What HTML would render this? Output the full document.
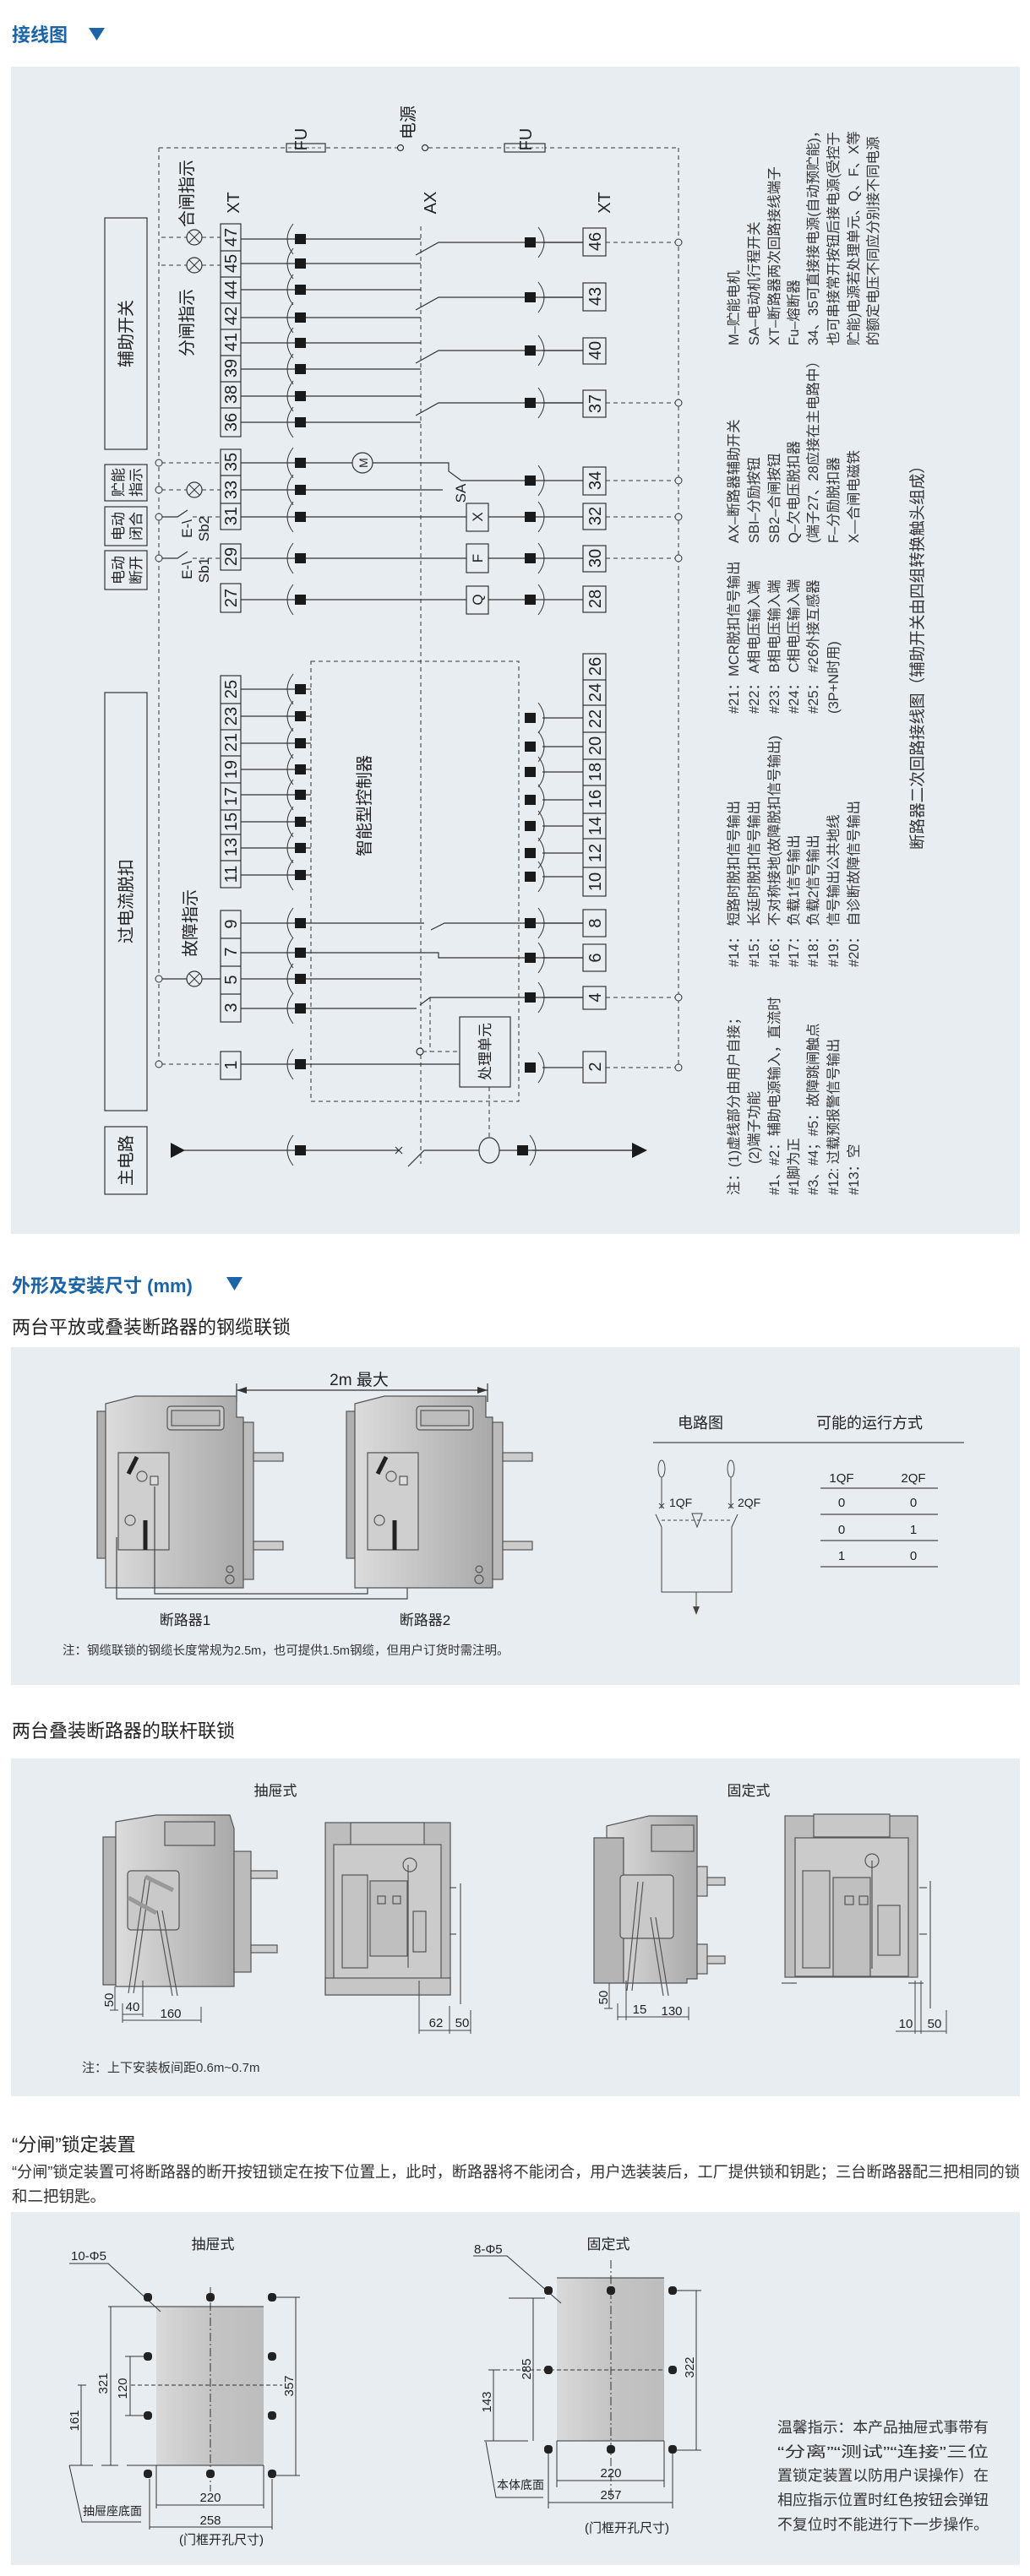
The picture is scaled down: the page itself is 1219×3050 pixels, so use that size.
<!DOCTYPE html>
<html><head><meta charset="utf-8"><style>
html,body{margin:0;padding:0;background:#fff;}
svg{display:block;}
text{font-family:"Liberation Sans","Noto Sans CJK SC",sans-serif;}
</style></head><body>
<svg width="1219" height="3050" viewBox="0 0 1219 3050" xmlns="http://www.w3.org/2000/svg">
<defs>
<linearGradient id="gb" x1="0" x2="1" y1="0" y2="0"><stop offset="0" stop-color="#dcdcdc"/><stop offset="1" stop-color="#a9a9a9"/></linearGradient>
<linearGradient id="gr" x1="0" x2="1" y1="0" y2="0"><stop offset="0" stop-color="#d9d9d9"/><stop offset="0.5" stop-color="#c4c4c4"/><stop offset="1" stop-color="#bdbdbd"/></linearGradient>
</defs>
<rect width="1219" height="3050" fill="#fff"/>

<!-- ===== HEADER 1 ===== -->
<text x="14" y="49" font-size="22" font-weight="bold" fill="#1b64a8">接线图</text>
<polygon points="105,33 124,33 114.5,48" fill="#1b64a8"/>

<rect x="13" y="79" width="1194" height="1382" fill="#e8edf1"/>

<g stroke="#333" fill="none" stroke-width="1.2">
<!-- top dashed supply -->
<g stroke-dasharray="5,4" stroke-width="1">
<line x1="188" y1="175" x2="470" y2="175"/>
<line x1="507" y1="175" x2="803" y2="175"/>
<line x1="188" y1="175" x2="188" y2="1260"/>
<line x1="803" y1="175" x2="803" y2="1264"/>
<line x1="498" y1="268" x2="498" y2="1378"/>
<rect x="368" y="783" width="246" height="521"/>
</g>
<rect x="339" y="170" width="46" height="10" fill="#e8edf1"/>
<line x1="341" y1="175" x2="383" y2="175" stroke-dasharray="4,3" stroke-width="0.8"/>
<rect x="597" y="170" width="48" height="10" fill="#e8edf1"/>
<line x1="599" y1="175" x2="643" y2="175" stroke-dasharray="4,3" stroke-width="0.8"/>
<circle cx="474" cy="175" r="3.5" fill="#e8edf1"/>
<circle cx="503" cy="175" r="3.5" fill="#e8edf1"/>

<!-- boxes on left -->
<rect x="124" y="258" width="50" height="274"/>
<rect x="124" y="550" width="50" height="43"/>
<rect x="124" y="600" width="50" height="46"/>
<rect x="124" y="652" width="50" height="46"/>
<rect x="124" y="820" width="50" height="495"/>
<rect x="124" y="1334" width="50" height="80"/>

<!-- left terminal strips -->
<rect x="261" y="265" width="24" height="252"/>
<path d="M261 297H285M261 328H285M261 359H285M261 390H285M261 421H285M261 452H285M261 483H285"/>
<rect x="261" y="532" width="24" height="95"/>
<path d="M261 563H285M261 596H285"/>
<rect x="261" y="644" width="24" height="31"/>
<rect x="261" y="691" width="24" height="34"/>
<rect x="261" y="800" width="24" height="251"/>
<path d="M261 833H285M261 864H285M261 895H285M261 927H285M261 959H285M261 988H285M261 1019H285"/>
<rect x="261" y="1078" width="24" height="132"/>
<path d="M261 1111H285M261 1144H285M261 1177H285"/>
<rect x="261" y="1245" width="24" height="33"/>

<!-- right terminal boxes -->
<rect x="690" y="270" width="27" height="33"/>
<rect x="690" y="335" width="27" height="33"/>
<rect x="690" y="400" width="27" height="31"/>
<rect x="690" y="462" width="27" height="32"/>
<rect x="690" y="553" width="27" height="33"/>
<rect x="690" y="596" width="27" height="31"/>
<rect x="690" y="646" width="27" height="31"/>
<rect x="690" y="694" width="27" height="31"/>
<rect x="690" y="774" width="27" height="287"/>
<path d="M690 805H717M690 835H717M690 867H717M690 899H717M690 930H717M690 963H717M690 993H717M690 1027H717"/>
<rect x="690" y="1077" width="27" height="32"/>
<rect x="690" y="1118" width="27" height="32"/>
<rect x="690" y="1168" width="27" height="27"/>
<rect x="690" y="1245" width="27" height="37"/>

<!-- top group left rows -->
<path d="M285 283H498M285 312H498M285 343H498M285 376H498M285 406H498M285 437H498M285 469H498M285 500H498"/>
<!-- switches to right -->
<path d="M492 302L519 287H690M492 367L519 352H690M492 430L519 415H690M492 492L519 477H690"/>
<g stroke-dasharray="5,4" stroke-width="1"><path d="M717 287H800M717 477H800M717 569H800M717 612H800M717 661H800M717 1181H800M717 1264H800"/></g>

<!-- lower aux rows -->
<path d="M285 548H417M441 548H531V558L546 569H690"/>
<circle cx="429" cy="548" r="12"/>
<path d="M285 580H524"/>
<path d="M285 612H552M578 612H690"/>
<rect x="552" y="596" width="26" height="33"/>
<path d="M285 661H552M578 661H690"/>
<rect x="552" y="644" width="26" height="34"/>
<path d="M285 710H552M578 710H690"/>
<rect x="552" y="694" width="26" height="33"/>

<!-- left connections aux -->
<g stroke-dasharray="5,4" stroke-width="1">
<path d="M191 281H221M239 281H261M191 314H221M239 314H261"/>
<path d="M191 548H261M191 580H221M239 580H261"/>
<path d="M228 612H261M228 661H261"/>
<path d="M191 1260H261"/>
</g>
<path d="M191 612H210L222 604M191 661H210L222 653"/>
<path d="M191 1159H221M239 1159H261"/>

<!-- controller rows -->
<path d="M285 816H368M285 848H368M285 880H368M285 911H368M285 941H368M285 973H368M285 1004H368M285 1036H368"/>
<path d="M642 850H690M642 884H690M642 914H690M642 947H690M642 978H690M642 1010H690M642 1038H690"/>
<path d="M285 1093H502M510 1101L526 1093H690"/>
<path d="M285 1128H519V1134H690"/>
<path d="M285 1159H498"/>
<path d="M285 1194H493M497 1190L509 1181H690"/>
<g stroke-dasharray="5,4" stroke-width="1"><path d="M509 1181V1245M500 1245H544M579 1287V1347"/></g>
<circle cx="497" cy="1245" r="4" fill="#e8edf1"/>
<path d="M285 1260H544"/>
<rect x="544" y="1204" width="60" height="83"/>
<path d="M642 1264H690"/>

<!-- main circuit -->
<path d="M218 1362H472M468 1358L476 1366M468 1366L476 1358M483 1381L502 1362H748"/>
<ellipse cx="579" cy="1362" rx="12" ry="15" fill="#e8edf1"/>

<!-- lamps -->
<g fill="#e8edf1">
<circle cx="230" cy="281" r="9"/><circle cx="230" cy="314" r="9"/><circle cx="230" cy="580" r="9"/><circle cx="230" cy="1159" r="9"/>
</g>
<path d="M223.6 274.6L236.4 287.4M236.4 274.6L223.6 287.4M223.6 307.6L236.4 320.4M236.4 307.6L223.6 320.4M223.6 573.6L236.4 586.4M236.4 573.6L223.6 586.4M223.6 1152.6L236.4 1165.4M236.4 1152.6L223.6 1165.4" stroke-width="1"/>

<!-- small circles on dashed verticals -->
<g fill="#e8edf1" stroke-width="1">
<circle cx="188" cy="548" r="4"/><circle cx="188" cy="580" r="4"/><circle cx="188" cy="612" r="4"/><circle cx="188" cy="661" r="4"/><circle cx="188" cy="1159" r="4"/><circle cx="188" cy="1260" r="4"/>
<circle cx="803" cy="287" r="4"/><circle cx="803" cy="477" r="4"/><circle cx="803" cy="569" r="4"/><circle cx="803" cy="612" r="4"/><circle cx="803" cy="661" r="4"/><circle cx="803" cy="1181" r="4"/><circle cx="803" cy="1264" r="4"/>
</g>

<!-- left arcs -->
<path stroke-width="1" d="M347 265Q333 283 347 301M347 294Q333 312 347 330M347 325Q333 343 347 361M347 358Q333 376 347 394M347 388Q333 406 347 424M347 419Q333 437 347 455M347 451Q333 469 347 487M347 482Q333 500 347 518
M347 530Q333 548 347 566M347 562Q333 580 347 598M347 594Q333 612 347 630M347 643Q333 661 347 679M347 692Q333 710 347 728
M347 798Q333 816 347 834M347 830Q333 848 347 866M347 862Q333 880 347 898M347 893Q333 911 347 929M347 923Q333 941 347 959M347 955Q333 973 347 991M347 986Q333 1004 347 1022M347 1018Q333 1036 347 1054
M347 1075Q333 1093 347 1111M347 1110Q333 1128 347 1146M347 1141Q333 1159 347 1177M347 1176Q333 1194 347 1212M347 1242Q333 1260 347 1278M347 1344Q333 1362 347 1380"/>
<!-- right arcs -->
<path stroke-width="1" d="M637 269Q651 287 637 305M637 334Q651 352 637 370M637 397Q651 415 637 433M637 459Q651 477 637 495
M637 551Q651 569 637 587M637 594Q651 612 637 630M637 643Q651 661 637 679M637 692Q651 710 637 728
M637 832Q651 850 637 868M637 866Q651 884 637 902M637 896Q651 914 637 932M637 929Q651 947 637 965M637 960Q651 978 637 996M637 992Q651 1010 637 1028M637 1020Q651 1038 637 1056
M637 1075Q651 1093 637 1111M637 1116Q651 1134 637 1152M637 1163Q651 1181 637 1199M637 1246Q651 1264 637 1282M627 1344Q641 1362 627 1380"/>
<path d="M642 287H690M642 352H690M642 415H690M642 477H690M642 1093H690M642 1134H690M642 1181H690M630 1362H748" />
</g>

<!-- squares -->
<g fill="#1a1a1a">
<rect x="349" y="277" width="13" height="12"/><rect x="349" y="306" width="13" height="12"/><rect x="349" y="337" width="13" height="12"/><rect x="349" y="370" width="13" height="12"/><rect x="349" y="400" width="13" height="12"/><rect x="349" y="431" width="13" height="12"/><rect x="349" y="463" width="13" height="12"/><rect x="349" y="494" width="13" height="12"/>
<rect x="349" y="542" width="13" height="12"/><rect x="349" y="574" width="13" height="12"/><rect x="349" y="606" width="13" height="12"/><rect x="349" y="655" width="13" height="12"/><rect x="349" y="704" width="13" height="12"/>
<rect x="349" y="810" width="13" height="12"/><rect x="349" y="842" width="13" height="12"/><rect x="349" y="874" width="13" height="12"/><rect x="349" y="905" width="13" height="12"/><rect x="349" y="935" width="13" height="12"/><rect x="349" y="967" width="13" height="12"/><rect x="349" y="998" width="13" height="12"/><rect x="349" y="1030" width="13" height="12"/>
<rect x="349" y="1087" width="13" height="12"/><rect x="349" y="1122" width="13" height="12"/><rect x="349" y="1153" width="13" height="12"/><rect x="349" y="1188" width="13" height="12"/><rect x="349" y="1254" width="13" height="12"/><rect x="349" y="1356" width="13" height="12"/>
<rect x="621" y="281" width="13" height="12"/><rect x="621" y="346" width="13" height="12"/><rect x="621" y="409" width="13" height="12"/><rect x="621" y="471" width="13" height="12"/>
<rect x="621" y="563" width="13" height="12"/><rect x="621" y="606" width="13" height="12"/><rect x="621" y="655" width="13" height="12"/><rect x="621" y="704" width="13" height="12"/>
<rect x="621" y="844" width="13" height="12"/><rect x="621" y="878" width="13" height="12"/><rect x="621" y="908" width="13" height="12"/><rect x="621" y="941" width="13" height="12"/><rect x="621" y="972" width="13" height="12"/><rect x="621" y="1004" width="13" height="12"/><rect x="621" y="1032" width="13" height="12"/>
<rect x="621" y="1087" width="13" height="12"/><rect x="621" y="1128" width="13" height="12"/><rect x="621" y="1175" width="13" height="12"/><rect x="621" y="1258" width="13" height="12"/><rect x="612" y="1356" width="13" height="12"/>
<polygon points="202,1353 219,1362 202,1371"/><polygon points="748,1353 766,1362 748,1371"/>
</g>

<!-- rotated labels in wiring diagram -->
<g fill="#222" font-size="20">
<text transform="translate(363,165) rotate(-90)" text-anchor="middle">FU</text>
<text transform="translate(490,145) rotate(-90)" text-anchor="middle">电源</text>
<text transform="translate(629,165) rotate(-90)" text-anchor="middle">FU</text>
<text transform="translate(283,240) rotate(-90)" text-anchor="middle">XT</text>
<text transform="translate(516,240) rotate(-90)" text-anchor="middle">AX</text>
<text transform="translate(722,240) rotate(-90)" text-anchor="middle">XT</text>
<text transform="translate(156,395) rotate(-90)" text-anchor="middle">辅助开关</text>
<text transform="translate(156,1067) rotate(-90)" text-anchor="middle">过电流脱扣</text>
<text transform="translate(156,1374) rotate(-90)" text-anchor="middle">主电路</text>
<text transform="translate(228,229) rotate(-90)" text-anchor="middle">合闸指示</text>
<text transform="translate(228,382) rotate(-90)" text-anchor="middle">分闸指示</text>
<text transform="translate(232,1093) rotate(-90)" text-anchor="middle">故障指示</text>
<text transform="translate(438,954) rotate(-90)" text-anchor="middle">智能型控制器</text>
</g>
<g fill="#222" font-size="17">
<text transform="translate(146,571) rotate(-90)" text-anchor="middle">贮能</text>
<text transform="translate(167,571) rotate(-90)" text-anchor="middle">指示</text>
<text transform="translate(146,623) rotate(-90)" text-anchor="middle">电动</text>
<text transform="translate(167,623) rotate(-90)" text-anchor="middle">闭合</text>
<text transform="translate(146,675) rotate(-90)" text-anchor="middle">电动</text>
<text transform="translate(167,675) rotate(-90)" text-anchor="middle">断开</text>
<text transform="translate(580,1245) rotate(-90)" text-anchor="middle">处理单元</text>
<text transform="translate(227,626) rotate(-90)" text-anchor="middle">E-\</text>
<text transform="translate(247,626) rotate(-90)" text-anchor="middle">Sb2</text>
<text transform="translate(227,675) rotate(-90)" text-anchor="middle">E-\</text>
<text transform="translate(247,675) rotate(-90)" text-anchor="middle">Sb1</text>
<text transform="translate(551,584) rotate(-90)" text-anchor="middle">SA</text>
<text transform="translate(435,548) rotate(-90)" text-anchor="middle" font-size="14">M</text>
<text transform="translate(571,612) rotate(-90)" text-anchor="middle">X</text>
<text transform="translate(571,661) rotate(-90)" text-anchor="middle">F</text>
<text transform="translate(571,710) rotate(-90)" text-anchor="middle">Q</text>
</g>
<g fill="#222" font-size="20" text-anchor="middle">
<text transform="translate(280,281) rotate(-90)">47</text>
<text transform="translate(280,312) rotate(-90)">45</text>
<text transform="translate(280,343) rotate(-90)">44</text>
<text transform="translate(280,374) rotate(-90)">42</text>
<text transform="translate(280,405) rotate(-90)">41</text>
<text transform="translate(280,436) rotate(-90)">39</text>
<text transform="translate(280,467) rotate(-90)">38</text>
<text transform="translate(280,500) rotate(-90)">36</text>
<text transform="translate(280,547) rotate(-90)">35</text>
<text transform="translate(280,580) rotate(-90)">33</text>
<text transform="translate(280,611) rotate(-90)">31</text>
<text transform="translate(280,659) rotate(-90)">29</text>
<text transform="translate(280,708) rotate(-90)">27</text>
<text transform="translate(280,816) rotate(-90)">25</text>
<text transform="translate(280,848) rotate(-90)">23</text>
<text transform="translate(280,879) rotate(-90)">21</text>
<text transform="translate(280,911) rotate(-90)">19</text>
<text transform="translate(280,943) rotate(-90)">17</text>
<text transform="translate(280,973) rotate(-90)">15</text>
<text transform="translate(280,1003) rotate(-90)">13</text>
<text transform="translate(280,1035) rotate(-90)">11</text>
<text transform="translate(280,1094) rotate(-90)">9</text>
<text transform="translate(280,1127) rotate(-90)">7</text>
<text transform="translate(280,1160) rotate(-90)">5</text>
<text transform="translate(280,1193) rotate(-90)">3</text>
<text transform="translate(280,1261) rotate(-90)">1</text>
<text transform="translate(711,286) rotate(-90)">46</text>
<text transform="translate(711,351) rotate(-90)">43</text>
<text transform="translate(711,415) rotate(-90)">40</text>
<text transform="translate(711,478) rotate(-90)">37</text>
<text transform="translate(711,569) rotate(-90)">34</text>
<text transform="translate(711,611) rotate(-90)">32</text>
<text transform="translate(711,661) rotate(-90)">30</text>
<text transform="translate(711,709) rotate(-90)">28</text>
<text transform="translate(711,789) rotate(-90)">26</text>
<text transform="translate(711,820) rotate(-90)">24</text>
<text transform="translate(711,851) rotate(-90)">22</text>
<text transform="translate(711,883) rotate(-90)">20</text>
<text transform="translate(711,914) rotate(-90)">18</text>
<text transform="translate(711,946) rotate(-90)">16</text>
<text transform="translate(711,978) rotate(-90)">14</text>
<text transform="translate(711,1010) rotate(-90)">12</text>
<text transform="translate(711,1044) rotate(-90)">10</text>
<text transform="translate(711,1093) rotate(-90)">8</text>
<text transform="translate(711,1134) rotate(-90)">6</text>
<text transform="translate(711,1181) rotate(-90)">4</text>
<text transform="translate(711,1263) rotate(-90)">2</text>
</g>

<!-- right descriptive text columns -->
<g fill="#333" font-size="16.5">
<text transform="translate(874,409) rotate(-90)">M–贮能电机</text>
<text transform="translate(898,409) rotate(-90)">SA–电动机行程开关</text>
<text transform="translate(922,409) rotate(-90)">XT–断路器两次回路接线端子</text>
<text transform="translate(945,409) rotate(-90)">Fu–熔断器</text>
<text transform="translate(968,409) rotate(-90)">34、35可直接接电源(自动预贮能)，</text>
<text transform="translate(992,409) rotate(-90)">也可串接常开按钮后接电源(受控于</text>
<text transform="translate(1016,409) rotate(-90)">贮能)电源若处理单元、Q、F、X等</text>
<text transform="translate(1039,409) rotate(-90)">的额定电压不同应分别接不同电源</text>

<text transform="translate(874,643) rotate(-90)">AX–断路器辅助开关</text>
<text transform="translate(898,643) rotate(-90)">SBI–分励按钮</text>
<text transform="translate(922,643) rotate(-90)">SB2–合闸按钮</text>
<text transform="translate(945,643) rotate(-90)">Q–欠电压脱扣器</text>
<text transform="translate(968,643) rotate(-90)">(端子27、28应接在主电路中）</text>
<text transform="translate(992,643) rotate(-90)">F–分励脱扣器</text>
<text transform="translate(1016,643) rotate(-90)">X—合闸电磁铁</text>

<text transform="translate(874,845) rotate(-90)">#21：MCR脱扣信号输出</text>
<text transform="translate(898,845) rotate(-90)">#22： A相电压输入端</text>
<text transform="translate(922,845) rotate(-90)">#23： B相电压输入端</text>
<text transform="translate(945,845) rotate(-90)">#24： C相电压输入端</text>
<text transform="translate(968,845) rotate(-90)">#25： #26外接互感器</text>
<text transform="translate(992,845) rotate(-90)">(3P+N时用)</text>

<text transform="translate(874,1145) rotate(-90)">#14：  短路时脱扣信号输出</text>
<text transform="translate(898,1145) rotate(-90)">#15：  长延时脱扣信号输出</text>
<text transform="translate(922,1145) rotate(-90)">#16：  不对称接地(故障脱扣信号输出)</text>
<text transform="translate(945,1145) rotate(-90)">#17：  负载1信号输出</text>
<text transform="translate(968,1145) rotate(-90)">#18：  负载2信号输出</text>
<text transform="translate(992,1145) rotate(-90)">#19：  信号输出公共地线</text>
<text transform="translate(1016,1145) rotate(-90)">#20：  自诊断故障信号输出</text>

<text transform="translate(874,1415) rotate(-90)">注：(1)虚线部分由用户自接；</text>
<text transform="translate(898,1378) rotate(-90)">(2)端子功能</text>
<text transform="translate(922,1415) rotate(-90)">#1、#2：辅助电源输入，直流时</text>
<text transform="translate(945,1415) rotate(-90)">#1脚为正</text>
<text transform="translate(968,1415) rotate(-90)">#3、#4；#5：故障跳闸触点</text>
<text transform="translate(992,1415) rotate(-90)">#12: 过载预报警信号输出</text>
<text transform="translate(1016,1415) rotate(-90)">#13：空</text>
</g>
<text transform="translate(1092,1006) rotate(-90)" font-size="19" fill="#333" textLength="464" lengthAdjust="spacingAndGlyphs">断路器二次回路接线图（辅助开关由四组转换触头组成）</text>

<!-- ===== HEADER 2 ===== -->
<text x="14" y="1530" font-size="22" font-weight="bold" fill="#1b64a8">外形及安装尺寸 (mm)</text>
<polygon points="268,1512 287,1512 277.5,1528" fill="#1b64a8"/>
<text x="14" y="1579" font-size="22" fill="#222">两台平放或叠装断路器的钢缆联锁</text>
<rect x="13" y="1595" width="1194" height="400" fill="#e8edf1"/>

<!-- dimension 2m -->
<g stroke="#333" stroke-width="1.2" fill="none">
<path d="M280 1646H577M280 1638V1660M577 1638V1660"/>
</g>
<polygon points="280,1646 292,1642 292,1650" fill="#333"/><polygon points="577,1646 565,1642 565,1650" fill="#333"/>
<text x="425" y="1640" font-size="19" fill="#222" text-anchor="middle">2m 最大</text>

<!-- breakers -->
<g id="bk1" stroke="#555" stroke-width="1.2">
<rect x="115" y="1671" width="10" height="174" fill="#b0b0b0"/>
<path d="M125 1662L160 1653H280V1678H288V1880H125Z" fill="url(#gb)"/>
<rect x="288" y="1684" width="12" height="186" fill="#bbb"/>
<rect x="300" y="1720" width="35" height="10" fill="#ccc"/>
<rect x="300" y="1825" width="35" height="10" fill="#ccc"/>
<rect x="198" y="1665" width="67" height="28" rx="4" fill="#c9c9c9"/>
<rect x="203" y="1670" width="57" height="18" fill="#bdbdbd"/>
<path d="M140 1720H200V1835H140Z" fill="#cfcfcf"/>
<path d="M152 1745L162 1725" stroke="#222" stroke-width="5"/>
<path d="M172 1800V1835" stroke="#222" stroke-width="5"/>
<circle cx="168" cy="1748" r="6" fill="none"/><circle cx="154" cy="1800" r="6" fill="none"/>
<rect x="178" y="1748" width="9" height="10" fill="#ddd"/>
<circle cx="272" cy="1858" r="4" fill="none"/><circle cx="272" cy="1870" r="5" fill="none"/>
<path d="M138 1820V1893H482V1840M183 1760V1887H435V1840" fill="none" stroke="#444"/>
</g>
<g stroke="#555" stroke-width="1.2">
<rect x="410" y="1671" width="10" height="174" fill="#b0b0b0"/>
<path d="M420 1662L455 1653H575V1678H583V1880H420Z" fill="url(#gb)"/>
<rect x="583" y="1684" width="12" height="186" fill="#bbb"/>
<rect x="595" y="1720" width="35" height="10" fill="#ccc"/>
<rect x="595" y="1825" width="35" height="10" fill="#ccc"/>
<rect x="493" y="1665" width="67" height="28" rx="4" fill="#c9c9c9"/>
<rect x="498" y="1670" width="57" height="18" fill="#bdbdbd"/>
<path d="M435 1720H495V1835H435Z" fill="#cfcfcf"/>
<path d="M447 1745L457 1725" stroke="#222" stroke-width="5"/>
<path d="M467 1800V1835" stroke="#222" stroke-width="5"/>
<circle cx="463" cy="1748" r="6" fill="none"/><circle cx="449" cy="1800" r="6" fill="none"/>
<rect x="473" y="1748" width="9" height="10" fill="#ddd"/>
<circle cx="567" cy="1858" r="4" fill="none"/><circle cx="567" cy="1870" r="5" fill="none"/>
</g>
<text x="219" y="1924" font-size="17" fill="#222" text-anchor="middle">断路器1</text>
<text x="503" y="1924" font-size="17" fill="#222" text-anchor="middle">断路器2</text>
<text x="74" y="1959" font-size="14.5" fill="#333">注：钢缆联锁的钢缆长度常规为2.5m，也可提供1.5m钢缆，但用户订货时需注明。</text>

<!-- circuit schematic and table -->
<text x="829" y="1691" font-size="18" fill="#222" text-anchor="middle">电路图</text>
<text x="1029" y="1691" font-size="18" fill="#222" text-anchor="middle">可能的运行方式</text>
<line x1="773" y1="1708" x2="1141" y2="1708" stroke="#666" stroke-width="1.5"/>
<g stroke="#444" stroke-width="1" fill="none">
<ellipse cx="783" cy="1739" rx="4" ry="10"/><ellipse cx="865" cy="1739" rx="4" ry="10"/>
<path d="M783 1749V1786M865 1749V1786M780 1780L786 1786M786 1780L780 1786M862 1780L868 1786M868 1780L862 1786"/>
<path d="M776 1793L783 1808V1885H866V1808L873 1793M824 1885V1908"/>
<path d="M783 1800H866" stroke-dasharray="4,3"/>
<path d="M819 1792L825 1808L831 1792Z"/>
</g>
<polygon points="820,1902 828,1902 824,1912" fill="#444"/>
<text x="792" y="1784" font-size="14" fill="#222">1QF</text>
<text x="873" y="1784" font-size="14" fill="#222">2QF</text>
<g fill="#222" font-size="15" text-anchor="middle">
<text x="996" y="1755">1QF</text><text x="1081" y="1755">2QF</text>
<text x="996" y="1784">0</text><text x="1081" y="1784">0</text>
<text x="996" y="1816">0</text><text x="1081" y="1816">1</text>
<text x="996" y="1847">1</text><text x="1081" y="1847">0</text>
</g>
<g stroke="#666" stroke-width="1.5"><path d="M971 1762H1110M971 1793H1110M971 1824H1110M971 1855H1110"/></g>

<!-- ===== section 3 ===== -->
<text x="14" y="2057" font-size="22" fill="#222">两台叠装断路器的联杆联锁</text>
<rect x="13" y="2082" width="1194" height="400" fill="#e8edf1"/>
<text x="326" y="2126" font-size="17" fill="#222" text-anchor="middle">抽屉式</text>
<text x="886" y="2126" font-size="17" fill="#222" text-anchor="middle">固定式</text>

<g stroke="#555" stroke-width="1.2">
<!-- drawer side -->
<path d="M122 2175H137V2350H122Z" fill="#b5b5b5"/>
<path d="M137 2157L185 2149H272L277 2165V2352H137Z" fill="url(#gb)"/>
<rect x="277" y="2192" width="20" height="143" fill="#bbb"/>
<rect x="297" y="2215" width="31" height="9" fill="#ccc"/><rect x="297" y="2303" width="31" height="9" fill="#ccc"/>
<rect x="195" y="2157" width="59" height="28" fill="#bdbdbd"/>
<rect x="151" y="2215" width="61" height="70" rx="4" fill="#c9c9c9"/>
<path d="M172 2222L152 2360M178 2222L158 2360M186 2262L204 2363M192 2262L210 2363" fill="none"/>
<path d="M172 2222L205 2238M152 2247L185 2265" stroke-width="5" stroke="#999"/>
<!-- drawer front -->
<rect x="385" y="2158" width="148" height="204" fill="#bdbdbd"/>
<rect x="415" y="2158" width="87" height="27" fill="#c8c8c8"/>
<rect x="395" y="2184" width="127" height="159" fill="#cbcbcb"/>
<rect x="405" y="2220" width="30" height="110" fill="#c4c4c4"/>
<rect x="438" y="2227" width="44" height="89" fill="#bfbfbf"/>
<rect x="489" y="2263" width="15" height="48" fill="#c4c4c4"/>
<rect x="385" y="2342" width="148" height="20" fill="#c6c6c6"/>
<circle cx="485" cy="2208" r="8" fill="#ccc"/>
<path d="M483 2208V2330M545 2230V2373M532 2235H540M532 2290H540" fill="none"/>
<rect x="447" y="2245" width="9" height="9" fill="none"/><rect x="465" y="2245" width="9" height="9" fill="none"/>
<!-- fixed side -->
<path d="M703 2176H738V2348H703Z" fill="#b5b5b5"/>
<path d="M718 2162L768 2150H825V2343H813V2348H738V2176H718Z" fill="url(#gb)"/>
<rect x="771" y="2161" width="50" height="31" fill="#bdbdbd"/>
<rect x="825" y="2210" width="12" height="35" fill="#ccc"/><rect x="825" y="2302" width="12" height="35" fill="#ccc"/>
<rect x="837" y="2223" width="21" height="9" fill="#ccc"/><rect x="837" y="2316" width="21" height="9" fill="#ccc"/>
<rect x="734" y="2220" width="63" height="75" rx="4" fill="#c9c9c9"/>
<path d="M755 2228L742 2357M761 2228L748 2357M770 2270L785 2363M776 2270L791 2363" fill="none"/>
<!-- fixed front -->
<rect x="929" y="2150" width="157" height="191" fill="#bdbdbd"/>
<rect x="963" y="2148" width="90" height="27" fill="#c8c8c8"/>
<rect x="941" y="2176" width="134" height="164" fill="#cbcbcb"/>
<rect x="950" y="2215" width="32" height="115" fill="#c4c4c4"/>
<rect x="986" y="2223" width="44" height="117" fill="#bfbfbf"/>
<rect x="1039" y="2256" width="26" height="59" fill="#c4c4c4"/>
<circle cx="1032" cy="2203" r="8" fill="#ccc"/>
<path d="M1032 2203V2331M1101 2227V2378M925 2348H943M1075 2348H1093M1088 2235H1097M1088 2290H1097" fill="none"/>
<rect x="1000" y="2245" width="10" height="10" fill="none"/><rect x="1017" y="2245" width="10" height="10" fill="none"/>
</g>
<!-- dims section 3 -->
<g stroke="#444" stroke-width="1" fill="none">
<path d="M136 2352V2380M130 2380H140M145 2372V2395M169 2345V2388M238 2376V2395M145 2385H169M145 2392H238"/>
<path d="M496 2345V2408M532 2375V2408M557 2380V2408M496 2404H557"/>
<path d="M721 2348V2378M715 2378H725M731 2372V2392M741 2345V2392M815 2376V2392M731 2388H815"/>
<path d="M1083 2345V2408M1090 2345V2408M1120 2380V2408M1060 2405H1120"/>
</g>
<g fill="#222" font-size="15">
<text transform="translate(134,2368) rotate(-90)" text-anchor="middle">50</text>
<text x="157" y="2381" text-anchor="middle">40</text>
<text x="202" y="2389" text-anchor="middle">160</text>
<text x="516" y="2400" text-anchor="middle">62</text>
<text x="547" y="2400" text-anchor="middle">50</text>
<text transform="translate(719,2365) rotate(-90)" text-anchor="middle">50</text>
<text x="757" y="2384" text-anchor="middle">15</text>
<text x="795" y="2386" text-anchor="middle">130</text>
<text x="1072" y="2401" text-anchor="middle">10</text>
<text x="1106" y="2401" text-anchor="middle">50</text>
</g>
<text x="97" y="2453" font-size="15" fill="#333">注：上下安装板间距0.6m~0.7m</text>

<!-- ===== section 4 ===== -->
<text x="14" y="2547" font-size="22" fill="#222">“分闸”锁定装置</text>
<text x="14" y="2578" font-size="18.5" fill="#333" textLength="1193" lengthAdjust="spacingAndGlyphs">“分闸”锁定装置可将断路器的断开按钮锁定在按下位置上，此时，断路器将不能闭合，用户选装装后，工厂提供锁和钥匙；三台断路器配三把相同的锁</text>
<text x="14" y="2607" font-size="18.5" fill="#333">和二把钥匙。</text>
<rect x="13" y="2619" width="1194" height="418" fill="#e8edf1"/>

<!-- drawer cutout -->
<rect x="185" y="2731" width="127" height="188" fill="url(#gr)"/>
<g stroke="#333" stroke-width="1" fill="none">
<path d="M128 2731H312"/>
<path d="M249 2708V2950" stroke-dasharray="10,3,2,3"/>
<path d="M155 2824H334" stroke-dasharray="5,3"/>
<path d="M82 2919H110M120 2919H140M150 2919H312" />
<path d="M131 2731V2919M154 2790V2860M148 2790H177M148 2860H177M96 2824V2919M92 2824H102M350 2720V2931M327 2720H355M327 2931H355"/>
<path d="M185 2919V2970M312 2919V2970M177 2935V2995M322 2935V2995M185 2966H312M177 2992H322"/>
<path d="M82 2680H128L190 2737"/>
<path d="M82 2919L97 2986H167"/>
</g>
<g fill="#222">
<rect x="170" y="2715" width="10" height="10" rx="4"/><rect x="244" y="2715" width="10" height="10" rx="4"/><rect x="317" y="2715" width="10" height="10" rx="4"/>
<rect x="170" y="2785" width="10" height="10" rx="4"/><rect x="317" y="2785" width="10" height="10" rx="4"/>
<rect x="170" y="2855" width="10" height="10" rx="4"/><rect x="317" y="2855" width="10" height="10" rx="4"/>
<rect x="170" y="2924" width="10" height="10" rx="4"/><rect x="244" y="2924" width="10" height="10" rx="4"/><rect x="317" y="2924" width="10" height="10" rx="4"/>
</g>
<g fill="#222" font-size="15">
<text x="252" y="2663" text-anchor="middle" font-size="17">抽屉式</text>
<text x="84" y="2676">10-Φ5</text>
<text transform="translate(127,2822) rotate(-90)" text-anchor="middle">321</text>
<text transform="translate(150,2828) rotate(-90)" text-anchor="middle">120</text>
<text transform="translate(93,2866) rotate(-90)" text-anchor="middle">161</text>
<text transform="translate(347,2825) rotate(-90)" text-anchor="middle">357</text>
<text x="249" y="2962" text-anchor="middle">220</text>
<text x="249" y="2989" text-anchor="middle">258</text>
<text x="262" y="3012" text-anchor="middle">(门框开孔尺寸)</text>
<text x="98" y="2978" font-size="14">抽屉座底面</text>
</g>

<!-- fixed cutout -->
<rect x="659" y="2697" width="127" height="193" fill="url(#gr)"/>
<g stroke="#333" stroke-width="1" fill="none">
<path d="M659 2697H786M659 2890H786M602 2721H645M573 2890H625"/>
<path d="M723 2676V2960" stroke-dasharray="10,3,2,3"/>
<path d="M579 2806H785" stroke-dasharray="5,3"/>
<path d="M631 2721V2890M584 2806V2890M578 2806H590M824 2712V2901M800 2712H830M800 2901H830"/>
<path d="M659 2890V2945M786 2890V2945M649 2900V2970M796 2900V2970M659 2937H786M649 2963H796"/>
<path d="M560 2671H600L664 2727"/>
<path d="M575 2891L587 2957H643"/>
</g>
<g fill="#222">
<rect x="644" y="2707" width="10" height="10" rx="4"/><rect x="718" y="2707" width="10" height="10" rx="4"/><rect x="791" y="2707" width="10" height="10" rx="4"/>
<rect x="644" y="2801" width="10" height="10" rx="4"/><rect x="791" y="2801" width="10" height="10" rx="4"/>
<rect x="644" y="2895" width="10" height="10" rx="4"/><rect x="718" y="2895" width="10" height="10" rx="4"/><rect x="791" y="2895" width="10" height="10" rx="4"/>
</g>
<g fill="#222" font-size="15">
<text x="720" y="2663" text-anchor="middle" font-size="17">固定式</text>
<text x="561" y="2668">8-Φ5</text>
<text transform="translate(628,2805) rotate(-90)" text-anchor="middle">285</text>
<text transform="translate(581,2844) rotate(-90)" text-anchor="middle">143</text>
<text transform="translate(821,2803) rotate(-90)" text-anchor="middle">322</text>
<text x="723" y="2933" text-anchor="middle">220</text>
<text x="723" y="2959" text-anchor="middle">257</text>
<text x="742" y="2998" text-anchor="middle">(门框开孔尺寸)</text>
<text x="588" y="2947" font-size="14">本体底面</text>
</g>

<g fill="#333" font-size="17.5">
<text x="920" y="2880" textLength="250" lengthAdjust="spacingAndGlyphs">温馨指示：本产品抽屉式事带有</text>
<text x="920" y="2909" textLength="250" lengthAdjust="spacingAndGlyphs">“分离”“测试”“连接”三位</text>
<text x="920" y="2937" textLength="250" lengthAdjust="spacingAndGlyphs">置锁定装置以防用户误操作）在</text>
<text x="920" y="2966" textLength="250" lengthAdjust="spacingAndGlyphs">相应指示位置时红色按钮会弹钮</text>
<text x="920" y="2995" textLength="250" lengthAdjust="spacingAndGlyphs">不复位时不能进行下一步操作。</text>
</g>
</svg>
</body></html>
